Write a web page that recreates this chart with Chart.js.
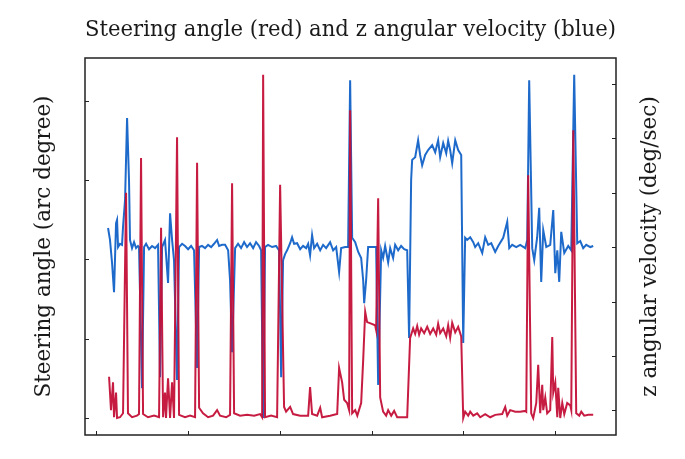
<!DOCTYPE html>
<html>
<head>
<meta charset="utf-8">
<script src="https://cdn.jsdelivr.net/npm/chart.js@4.4.1/dist/chart.umd.min.js"></script>
<style>
  body { margin: 0; background: #fff; }
  canvas { display: block; }
</style>
</head>
<body>
<canvas id="steerChart" width="685" height="459"></canvas>
<script>
// sample index (x) for each trace
const redX = [14.2,16.3,18.5,19.6,21.8,22.9,26.1,29.4,32.7,34.8,
  39.2,44.6,46.8,49.0,51.2,56.6,63.2,68.6,70.8,73.0,
  75.1,76.2,78.4,80.6,82.8,84.9,88.2,90.4,96.9,102.4,
  107.8,110.0,112.2,116.5,122.0,127.4,131.8,135.0,141.6,145.9,
  148.1,150.3,156.8,164.4,172.1,178.6,180.8,181.9,184.0,190.6,
  197.1,200.4,204.7,206.9,211.3,214.5,222.2,230.9,233.0,235.2,
  240.7,244.0,246.1,254.8,262.5,264.6,267.9,270.1,273.3,275.5,
  276.6,278.8,282.1,284.4,288.6,290.8,293.0,295.1,299.5,303.8,
  304.9,307.1,309.3,312.5,315.8,318.0,321.3,324.5,327.8,334.3,
  338.7,341.9,345.2,347.4,349.6,351.7,353.9,357.2,360.5,363.7,
  367.0,370.3,372.4,374.6,377.9,381.2,383.3,385.5,387.7,391.0,
  394.2,397.5,399.7,401.8,405.1,407.3,410.6,414.9,418.2,423.6,
  429.1,434.5,442.1,445.4,447.6,450.8,456.3,461.7,467.2,468.3,
  470.4,473.7,475.9,479.2,481.3,483.5,485.7,486.8,489.0,491.1,
  494.4,496.6,497.7,499.9,502.1,503.1,505.3,507.5,509.7,512.9,
  516.2,517.3,519.5,522.7,526.0,528.2,531.4,535.8,541.2];

// steering angle (arc degree)
const steering = [5.2,1.0,4.5,0.1,3.2,0,0.1,0.6,28.4,0.6,
  0.1,0.3,0.5,32.8,0.5,0.1,0.3,0.1,24.0,0.1,
  3.2,0,5.0,0,4.5,0,35.4,0.4,0.1,0.3,
  0.1,32.2,1.3,0.6,0.1,0.3,1.0,0.3,0.1,0.4,
  29.6,0.6,0.3,0.4,0.3,0.5,0.1,43.3,0.1,0.3,
  0.1,29.4,1.4,0.8,1.4,0.5,0.3,0.3,3.9,0.5,
  0.3,1.3,0.1,0.3,0.5,6.3,4.5,2.3,1.9,1.0,
  38.8,0.6,1.0,0.3,1.9,7.3,13.4,12.1,11.9,11.7,
  11.1,27.7,2.6,0.8,0.3,1.0,0.3,0.9,0.1,0.1,
  0.1,10.1,11.3,10.6,11.6,10.5,11.3,10.7,11.5,10.6,
  11.3,10.5,11.9,10.7,11.3,10.3,11.7,10.1,12.0,10.8,
  11.5,10.3,0,0.8,0.3,0.8,0.3,0.6,0.1,0.5,
  0.1,0.4,0.5,1.4,0.3,1.0,0.8,0.8,0.9,0.8,
  30.6,0.6,0,1.9,6.7,0.6,4.2,1.0,2.6,0.6,
  1.0,10.2,3.2,4.5,0.1,3.8,0,1.9,0.5,1.9,
  1.6,1.0,36.3,0.6,0.3,0.8,0.3,0.4,0.4];

const blueX = [13.1,15.2,17.4,19.6,21.8,22.9,24.0,26.1,28.3,29.4,
  31.6,33.8,35.9,37.0,39.2,41.4,43.6,45.7,46.8,50.1,
  52.3,54.5,57.7,61.0,64.3,67.5,69.7,71.9,75.1,78.4,
  80.6,82.8,84.9,88.2,90.4,93.7,96.9,100.2,103.5,106.7,
  110.0,112.2,115.4,118.7,122.0,125.3,128.5,131.8,134.0,137.2,
  140.5,143.8,145.9,148.1,151.4,154.6,157.9,161.2,164.4,167.7,
  171.0,174.2,177.5,179.7,181.9,184.0,187.3,191.7,196.0,199.3,
  201.5,203.6,205.8,208.0,211.3,213.4,215.6,218.9,222.2,225.4,
  228.7,230.9,233.0,235.2,237.4,240.7,244.0,247.2,250.5,254.8,
  258.1,261.4,264.6,266.8,271.2,274.4,276.6,278.8,282.1,285.4,
  288.6,290.8,291.9,294.0,296.2,300.6,304.9,307.1,310.4,312.5,
  314.7,318.0,320.2,323.4,325.6,328.9,332.1,335.4,338.7,340.8,
  343.0,344.1,347.4,350.6,352.8,355.0,358.3,361.5,365.9,369.2,
  372.4,374.6,377.9,381.2,383.3,385.5,387.7,391.0,394.2,397.5,
  399.7,401.8,404.0,407.3,410.6,412.7,416.0,420.4,423.6,426.9,
  430.2,434.5,437.8,443.2,447.6,449.8,453.0,457.4,461.7,467.2,
  469.4,471.5,474.8,477.0,480.2,482.4,484.6,486.8,490.1,494.4,
  497.7,499.9,502.1,504.2,506.4,509.7,514.0,517.3,520.5,523.8,
  527.1,530.3,533.6,538.0,541.2];

// z angular velocity (deg/sec)
const angVel = [3.5,1.3,-2.8,-8.3,4.4,5.0,0,0.6,0.4,3.7,
  8.6,23.7,12.3,1.3,-0.2,0.9,-0.2,0.2,0,-25.9,
  0,0.6,-0.4,0.2,-0.2,0.4,-23.9,0,1.3,-6.6,
  6.2,1.3,-2.4,-24.4,0,0.6,0.2,-0.4,0.2,-0.6,
  -22.2,0,0.2,-0.2,0.4,0,0.6,1.3,0.2,0.4,
  0.4,-0.6,-6.1,-19.3,-0.2,0.6,-0.2,0.9,0,0.7,
  -0.2,0.9,0.2,-0.6,-31.4,0,0.4,0,0.2,-0.6,
  -23.9,-2.4,-1.3,-0.6,0.7,1.8,0.6,0.7,-0.4,0.2,
  -0.2,0.6,-1.5,2.2,-0.2,0.6,-0.6,0.4,-0.2,0.9,
  -0.6,0,-4.6,-0.2,0,0,30.6,1.7,0.9,-0.9,
  -2.0,-6.1,-10.3,-6.1,0,0,0,-25.3,-0.6,-2.0,
  0.2,-2.8,-0.2,-2.0,0.4,-0.6,0.2,-0.4,-0.6,-16.7,
  12.3,16.0,16.5,19.6,16.9,15.0,16.9,17.8,18.7,17.4,
  19.6,16.5,19.1,17.2,19.5,17.8,15.4,19.6,17.8,16.9,
  -17.6,1.7,1.3,1.8,0.9,0,0.7,-1.1,1.8,0.4,
  0.7,-0.9,0.2,1.7,4.6,-0.2,0.4,0,0.4,-0.2,
  1.3,30.6,-0.2,-2.4,1.8,7.2,-6.4,3.1,0,0.4,
  6.8,-4.8,-0.6,-6.4,2.8,-1.1,0.2,-0.6,31.6,0.7,
  1.1,-0.2,0.4,0,0.2];

// tick positions (no labels shown in the figure)
const xTicks = [0, 100, 200, 300, 400, 500];
const steerTicks = [0, 10, 20, 30, 40];
const velTicks = [-30, -20, -10, 0, 10, 20, 30];

const SERIF = '"DejaVu Serif", "Liberation Serif", serif';
const TEXT = '#1a1a1a';
const FONT_SIZE = 21.5;

function toPoints(xs, ys) {
    return xs.map((x, i) => ({ x: x, y: ys[i] }));
}

function fixTicks(values) {
    return function(axis) {
        axis.ticks = values.map(v => ({ value: v }));
    };
}

// frame, inward tick marks and the right-hand title
const framePlugin = {
    id: 'frame',
    afterDraw(chart) {
        const { ctx, chartArea: a, scales } = chart;
        ctx.save();
        ctx.strokeStyle = '#222';
        ctx.lineWidth = 1;
        ctx.beginPath();
        scales.x.ticks.forEach(t => {
            const px = Math.round(scales.x.getPixelForValue(t.value)) + 0.5;
            ctx.moveTo(px, a.bottom);
            ctx.lineTo(px, a.bottom - 4);
        });
        scales.y.ticks.forEach(t => {
            const py = Math.round(scales.y.getPixelForValue(t.value)) + 0.5;
            ctx.moveTo(a.left, py);
            ctx.lineTo(a.left + 4, py);
        });
        scales.y2.ticks.forEach(t => {
            const py = Math.round(scales.y2.getPixelForValue(t.value)) + 0.5;
            ctx.moveTo(a.right, py);
            ctx.lineTo(a.right - 4, py);
        });
        ctx.stroke();

        ctx.lineWidth = 1.5;
        ctx.strokeRect(a.left, a.top, a.right - a.left, a.bottom - a.top);

        ctx.translate(650, (a.top + a.bottom) / 2);
        ctx.rotate(-Math.PI / 2);
        ctx.fillStyle = TEXT;
        ctx.font = FONT_SIZE + 'px ' + SERIF;
        ctx.textAlign = 'center';
        ctx.textBaseline = 'middle';
        ctx.fillText('z angular velocity (deg/sec)', 0, 0);
        ctx.restore();
    }
};

const ctx = document.getElementById('steerChart').getContext('2d');
new Chart(ctx, {
    type: 'line',
    data: {
        datasets: [
            {
                label: 'Steering angle',
                data: toPoints(redX, steering),
                yAxisID: 'y',
                borderColor: 'rgba(196, 16, 56, 0.95)',
                borderWidth: 2,
                pointRadius: 0,
                tension: 0
            },
            {
                label: 'z angular velocity',
                data: toPoints(blueX, angVel),
                yAxisID: 'y2',
                borderColor: 'rgba(18, 98, 200, 0.95)',
                borderWidth: 2,
                pointRadius: 0,
                tension: 0
            }
        ]
    },
    options: {
        responsive: false,
        animation: false,
        devicePixelRatio: 1,
        layout: { padding: { left: 32, right: 0, top: 0, bottom: 0 } },
        plugins: {
            legend: { display: false },
            tooltip: { enabled: false },
            title: {
                display: true,
                fullSize: false,
                text: 'Steering angle (red) and z angular velocity (blue)',
                color: TEXT,
                font: { family: SERIF, size: FONT_SIZE, weight: 'normal', lineHeight: 1.2 },
                padding: { top: 17.1, bottom: 15.1 }
            }
        },
        scales: {
            x: {
                type: 'linear',
                min: -12,
                max: 566,
                grid: { display: false },
                border: { display: false },
                ticks: { display: false },
                afterBuildTicks: fixTicks(xTicks),
                afterFit: function(scale) { scale.height = 24; }
            },
            y: {
                position: 'left',
                min: -2.14,
                max: 45.4,
                grid: { display: false },
                border: { display: false },
                ticks: { display: false },
                title: {
                    display: true,
                    text: 'Steering angle (arc degree)',
                    color: TEXT,
                    font: { family: SERIF, size: FONT_SIZE, lineHeight: 1.2 },
                    padding: 0
                },
                afterBuildTicks: fixTicks(steerTicks),
                afterFit: function(scale) { scale.width = 53; }
            },
            y2: {
                position: 'right',
                min: -34.5,
                max: 34.7,
                grid: { display: false },
                border: { display: false },
                ticks: { display: false },
                afterBuildTicks: fixTicks(velTicks),
                afterFit: function(scale) { scale.width = 69; }
            }
        }
    },
    plugins: [framePlugin]
});
</script>
</body>
</html>
